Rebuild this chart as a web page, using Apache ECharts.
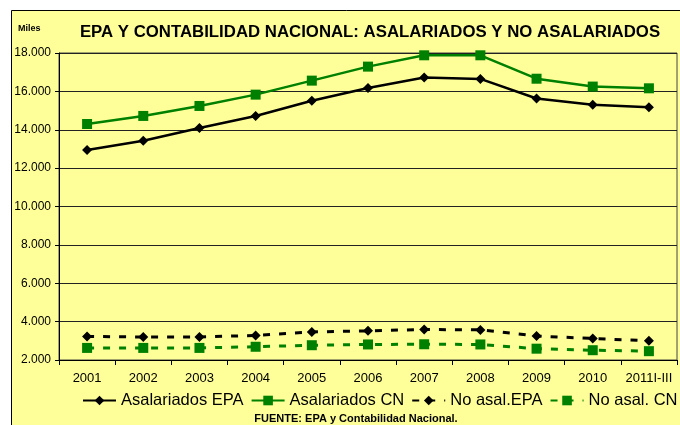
<!DOCTYPE html>
<html>
<head>
<meta charset="utf-8">
<script src="https://cdn.jsdelivr.net/npm/echarts@6/dist/echarts.min.js"></script>
<style>
html,body{margin:0;padding:0;background:#fff;}
#c{width:680px;height:425px;}
</style>
</head>
<body>
<div id="c"></div>
<script>
const categories = ['2001','2002','2003','2004','2005','2006','2007','2008','2009','2010','2011I-III'];
const asalEPA = [12950, 13430, 14090, 14720, 15510, 16180, 16720, 16650, 15630, 15300, 15170];
const asalCN  = [14300, 14720, 15240, 15830, 16560, 17290, 17880, 17880, 16660, 16250, 16160];
const noAsalEPA = [3230, 3200, 3200, 3280, 3460, 3520, 3590, 3570, 3250, 3120, 3000];
const noAsalCN  = [2630, 2630, 2630, 2690, 2770, 2810, 2820, 2810, 2590, 2510, 2460];
const seriesNames = ['Asalariados EPA', 'Asalariados CN', 'No asal.EPA', 'No asal. CN'];
const yTicks = {min: 2000, max: 18000, step: 2000};

const FONT = 'Arial, "Liberation Sans", sans-serif';
const chart = echarts.init(document.getElementById('c'));
function fmt(v){ return String(v).replace(/\B(?=(\d{3})+(?!\d))/g, '.'); }

chart.setOption({
  backgroundColor: '#fff',
  animation: false,
  graphic: [
    {type:'rect', z:-10, shape:{x:11.5,y:10.5,width:680,height:430}, style:{fill:'#FFFF99', stroke:'#000', lineWidth:1}},
    {type:'text', left:18, top:24, style:{text:'Miles', font:'bold 9px ' + FONT, fill:'#000'}},
    {type:'text', x:370, y:32, style:{text:'EPA Y CONTABILIDAD NACIONAL: ASALARIADOS Y NO ASALARIADOS', font:'bold 16.8px ' + FONT, fill:'#000', textAlign:'center', textVerticalAlign:'middle'}},
    {type:'text', x:356, y:419, style:{text:'FUENTE: EPA y Contabilidad Nacional.', font:'bold 11px ' + FONT, fill:'#000', textAlign:'center', textVerticalAlign:'middle'}}
  ],
  grid: {left:59, top:53, right:3, bottom:65, show:true, borderColor:'#444', borderWidth:1, backgroundColor:'transparent'},
  legend: {
    left: 82, top: 392, width: 640, padding: 0, itemWidth: 33, itemHeight: 12, itemGap: 7,
    textStyle: {fontFamily: FONT, fontSize: 16.5, color:'#000'},
    data: seriesNames
  },
  xAxis: {
    type:'category', data: categories, boundaryGap:true,
    axisLine:{lineStyle:{color:'#000', width:1}},
    axisTick:{show:true, length:5, lineStyle:{color:'#000'}},
    axisLabel:{color:'#000', fontFamily:FONT, fontSize:13, margin:12, interval:0}
  },
  yAxis: {
    type:'value', min:yTicks.min, max:yTicks.max, interval:yTicks.step,
    axisLine:{show:true, lineStyle:{color:'#000'}},
    axisTick:{show:true, length:4, lineStyle:{color:'#000'}},
    axisLabel:{color:'#000', fontFamily:FONT, fontSize:12, margin:8, formatter: fmt},
    splitLine:{lineStyle:{color:'#222', width:1}}
  },
  series: [
    {name:seriesNames[0], type:'line', data:asalEPA, symbol:'diamond', symbolSize:10,
     itemStyle:{color:'#000'}, lineStyle:{color:'#000', width:2.5}, z:4},
    {name:seriesNames[1], type:'line', data:asalCN, symbol:'rect', symbolSize:10,
     itemStyle:{color:'#008000'}, lineStyle:{color:'#008000', width:2.5}, z:3},
    {name:seriesNames[2], type:'line', data:noAsalEPA, symbol:'diamond', symbolSize:10,
     itemStyle:{color:'#000'}, lineStyle:{color:'#000', width:3, type:[7,9]}, z:4},
    {name:seriesNames[3], type:'line', data:noAsalCN, symbol:'rect', symbolSize:10,
     itemStyle:{color:'#008000'}, lineStyle:{color:'#008000', width:3, type:[7,9]}, z:3}
  ]
});
</script>
</body>
</html>
